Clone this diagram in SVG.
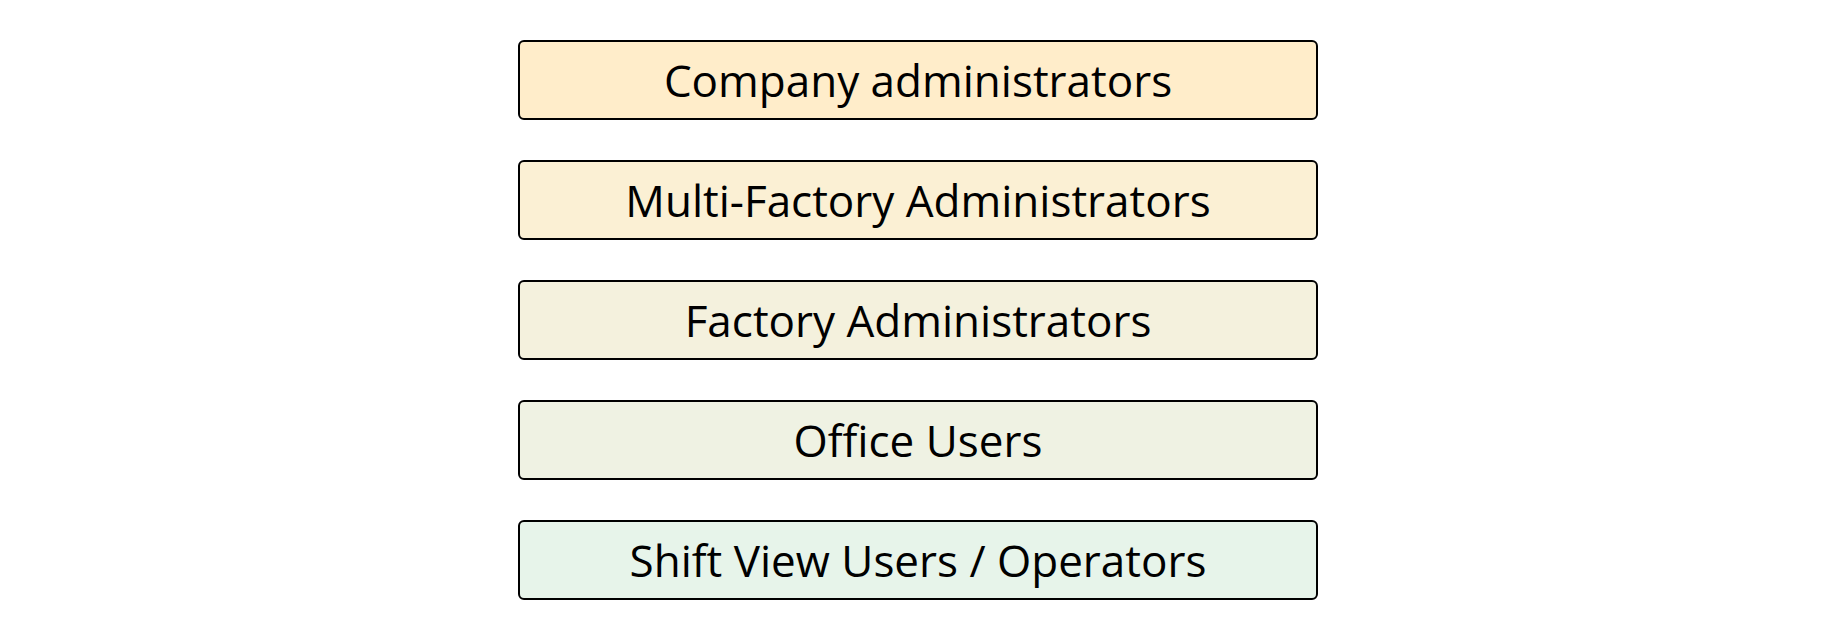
<svg xmlns="http://www.w3.org/2000/svg" width="1834" height="640" viewBox="0 0 1834 640">
<style>
.box{stroke:#000;stroke-width:2}
.lbl{font-family:"Open Sans","Noto Sans",sans-serif;font-size:44px;fill:#000;text-anchor:middle}
</style>
<rect width="1834" height="640" fill="#fff"/>
<g id="company-admins"><rect class="box" x="519" y="41" width="798" height="78" rx="5" fill="#FFEDCA"/><text class="lbl" x="918" y="97">Company administrators</text></g>
<g id="multi-factory-admins"><rect class="box" x="519" y="161" width="798" height="78" rx="5" fill="#FBF0D4"/><text class="lbl" x="918" y="217">Multi-Factory Administrators</text></g>
<g id="factory-admins"><rect class="box" x="519" y="281" width="798" height="78" rx="5" fill="#F4F1DD"/><text class="lbl" x="918" y="337">Factory Administrators</text></g>
<g id="office-users"><rect class="box" x="519" y="401" width="798" height="78" rx="5" fill="#EFF2E3"/><text class="lbl" x="918" y="457">Office Users</text></g>
<g id="shift-view-users"><rect class="box" x="519" y="521" width="798" height="78" rx="5" fill="#E7F4EA"/><text class="lbl" x="918" y="577">Shift View Users / Operators</text></g>
<g id="connectors"></g>
</svg>
